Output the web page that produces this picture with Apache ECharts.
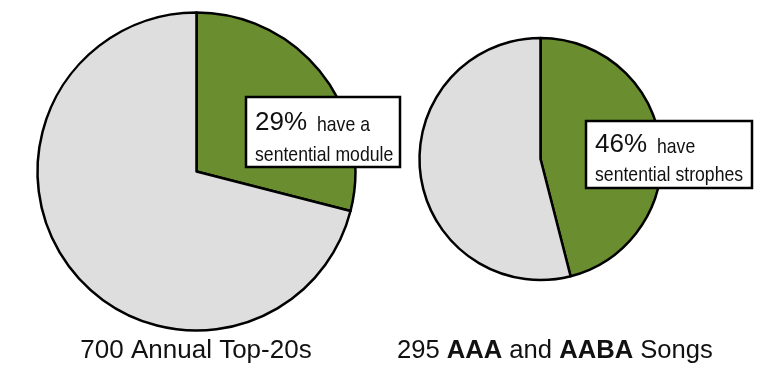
<!DOCTYPE html>
<html>
<head>
<meta charset="utf-8">
<script src="https://cdn.jsdelivr.net/npm/echarts@6/dist/echarts.min.js"></script>
<style>
html,body{margin:0;padding:0;background:#fff;}
#c{width:780px;height:385px;}
</style>
</head>
<body>
<div id="c"></div>
<script>
// Data
const sliceNames = ['sentential', 'other'];
const leftValues = [29, 71];
const rightValues = [46, 54];
const leftTitle = '700 Annual Top-20s';
const leftNote = ['have a', 'sentential module'];
const rightNote = ['have', 'sentential strophes'];

const FONT = '"Liberation Sans", Arial, Helvetica, sans-serif';
const GREEN = '#6a8e2f';
const GREY = '#dedede';

const chart = echarts.init(document.getElementById('c'), null, {renderer: 'canvas'});

function pieSeries(values, center, radius) {
  return {
    type: 'pie',
    center: center,
    radius: radius,
    startAngle: 90,
    clockwise: true,
    silent: true,
    label: {show: false},
    labelLine: {show: false},
    itemStyle: {borderColor: '#000', borderWidth: 2.5},
    data: values.map((v, i) => ({
      name: sliceNames[i],
      value: v,
      itemStyle: {color: i === 0 ? GREEN : GREY}
    }))
  };
}

function noteBox(x, y, w, h, pct, note, l1, l2, noteDx) {
  return [
    {type: 'rect', z: 100, shape: {x: x, y: y, width: w, height: h},
     style: {fill: '#fff', stroke: '#000', lineWidth: 2.5}},
    {type: 'text', z: 101, x: x + 9, y: y + l1,
     style: {text: pct + '%', font: '26px ' + FONT, fill: '#111', textAlign: 'left', textVerticalAlign: 'bottom'}},
    {type: 'text', z: 101, x: x + noteDx, y: y + l1,
     scaleX: 0.84,
     style: {text: note[0], font: '21px ' + FONT, fill: '#111', textAlign: 'left', textVerticalAlign: 'bottom'}},
    {type: 'text', z: 101, x: x + 9, y: y + l2,
     scaleX: 0.84,
     style: {text: note[1], font: '21px ' + FONT, fill: '#111', textAlign: 'left', textVerticalAlign: 'bottom'}}
  ];
}

const option = {
  animation: false,
  backgroundColor: '#fff',
  series: [
    pieSeries(leftValues, [196.5, 171.5], 159),
    pieSeries(rightValues, [540.5, 159], 121)
  ],
  graphic: [
    ...noteBox(246, 97, 154, 70, leftValues[0], leftNote, 39, 69, 71),
    ...noteBox(586, 121, 166, 67, rightValues[0], rightNote, 37, 65, 71),
    {type: 'text', z: 101, x: 196, y: 351,
     style: {text: leftTitle, font: '26px ' + FONT, fill: '#111', textAlign: 'center', textVerticalAlign: 'middle'}},
    {type: 'text', z: 101, x: 397, y: 351,
     style: {
       text: '{n|295 }{b|AAA}{n| and }{b|AABA}{n| Songs}',
       textAlign: 'left', textVerticalAlign: 'middle',
       rich: {
         n: {fontSize: 25.6, fontFamily: FONT, fill: '#111', color: '#111'},
         b: {fontSize: 25.6, fontFamily: FONT, fontWeight: 'bold', fill: '#111', color: '#111'}
       }
     }}
  ]
};
chart.setOption(option);
</script>
</body>
</html>
